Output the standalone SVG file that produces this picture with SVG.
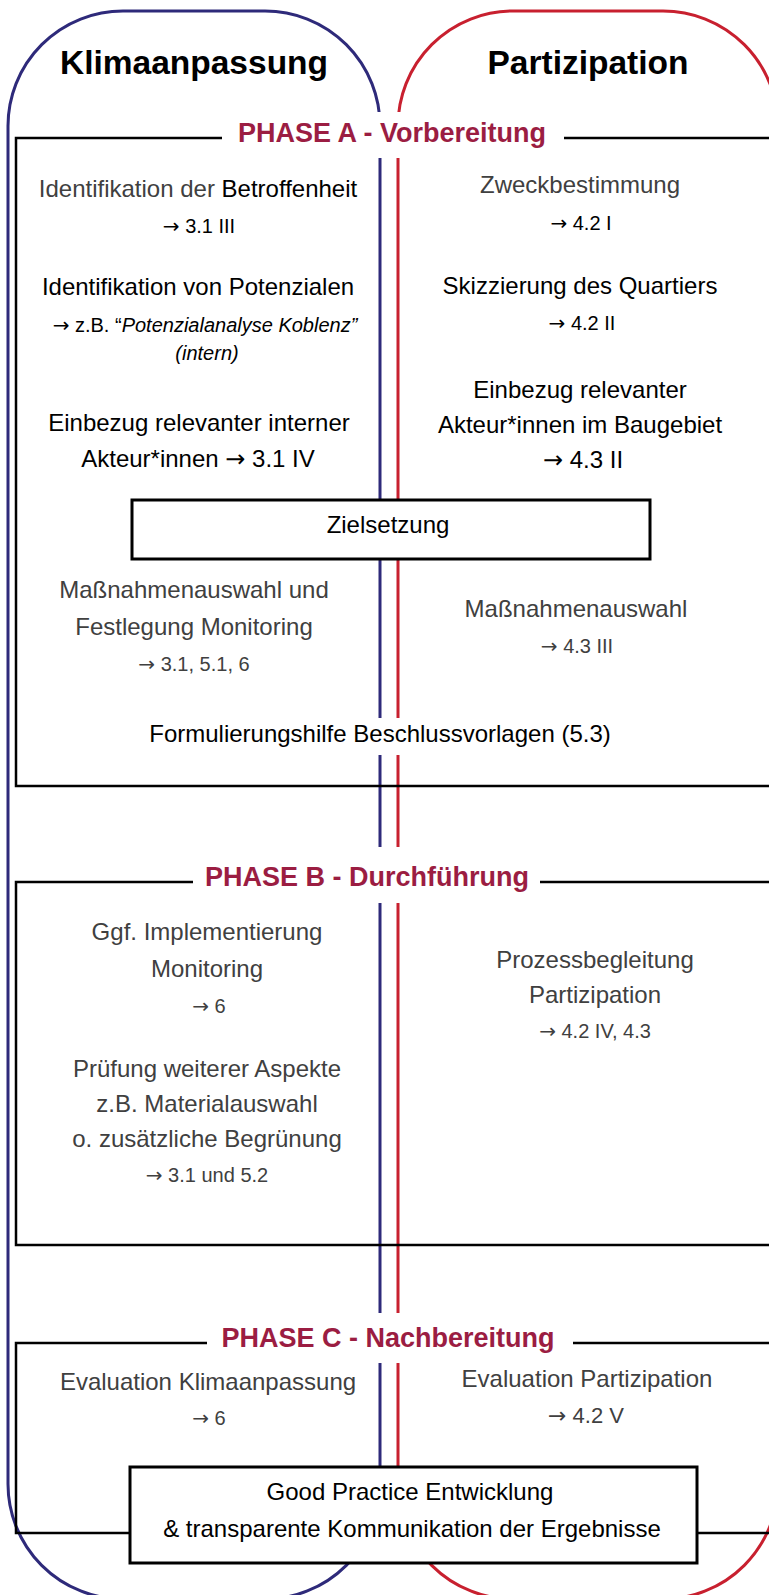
<svg xmlns="http://www.w3.org/2000/svg" width="769" height="1595" viewBox="0 0 769 1595">
<style>
text{font-family:"Liberation Sans","DejaVu Sans",sans-serif;text-anchor:middle}
.ar{font-family:"DejaVu Sans",sans-serif;font-style:normal}
.h{font-size:33.5px;font-weight:bold;fill:#000}
.ph{font-size:27px;font-weight:bold;fill:#9B1D42}
.g{font-size:24px;fill:#404040}
.k{font-size:24px;fill:#000}
.gs{font-size:20px;fill:#404040}
.ks{font-size:20px;fill:#000}
.it{font-style:italic}
.blue{fill:none;stroke:#2E2A7A;stroke-width:3}
.red{fill:none;stroke:#C8202F;stroke-width:3}
.fr{fill:none;stroke:#000;stroke-width:2.5}
.box{fill:#fff;stroke:#000;stroke-width:3}
.mask{fill:#fff}
</style>
<rect width="769" height="1595" fill="#fff"/>
<g id="columns">
<rect id="col-klima" class="blue" x="8" y="11" width="372" height="1588" rx="115" ry="115"/>
<rect id="col-partizipation" class="red" x="398" y="11" width="380" height="1588" rx="115" ry="115"/>
</g>
<g id="frames">
<path id="frame-a" class="fr" d="M222,138 H16 V786 H775 M564,138 H775"/>
<path id="frame-b" class="fr" d="M193,882 H16 V1245 H775 M540,882 H775"/>
<path id="frame-c" class="fr" d="M207,1343 H16 V1533 H130 M573,1343 H775 M697,1533 H775"/>
</g>
<g id="gaps">
<rect class="mask" x="375" y="112" width="28" height="46"/>
<rect class="mask" x="375" y="718" width="28" height="37"/>
<rect class="mask" x="375" y="847" width="28" height="56"/>
<rect class="mask" x="375" y="1313" width="28" height="50"/>
</g>
<g id="connectors"></g>
<g id="title-klima"><text class="h" x="194" y="74">Klimaanpassung</text></g>
<g id="title-partizipation"><text class="h" x="588" y="74">Partizipation</text></g>
<g id="phase-a-label"><text class="ph" x="392" y="142">PHASE A - Vorbereitung</text></g>
<g id="a-betroffenheit">
<text class="g" x="198" y="197">Identifikation der <tspan fill="#000">Betroffenheit</tspan></text>
<text class="ks" x="199" y="233"><tspan class="ar">→</tspan> 3.1 III</text>
</g>
<g id="a-potenziale">
<text class="k" x="198" y="295">Identifikation von Potenzialen</text>
<text class="ks" x="205" y="332"><tspan class="ar">→</tspan> z.B. “<tspan class="it">Potenzialanalyse Koblenz”</tspan></text>
<text class="ks it" x="207" y="360">(intern)</text>
</g>
<g id="a-akteure-intern">
<text class="k" x="199" y="431">Einbezug relevanter interner</text>
<text class="k" x="198" y="467">Akteur*innen <tspan class="ar">→</tspan> 3.1 IV</text>
</g>
<g id="a-zweck">
<text class="g" x="580" y="193">Zweckbestimmung</text>
<text class="ks" x="581" y="230"><tspan class="ar">→</tspan> 4.2 I</text>
</g>
<g id="a-quartier">
<text class="k" x="580" y="294">Skizzierung des Quartiers</text>
<text class="ks" x="582" y="330"><tspan class="ar">→</tspan> 4.2 II</text>
</g>
<g id="a-akteure-baugebiet">
<text class="k" x="580" y="398">Einbezug relevanter</text>
<text class="k" x="580" y="433">Akteur*innen im Baugebiet</text>
<text class="k" x="583" y="468"><tspan class="ar">→</tspan> 4.3 II</text>
</g>
<g id="zielsetzung">
<rect class="box" x="132" y="500" width="518" height="59"/>
<text class="k" x="388" y="533">Zielsetzung</text>
</g>
<g id="a-massnahmen-klima">
<text class="g" x="194" y="598">Maßnahmenauswahl und</text>
<text class="g" x="194" y="635">Festlegung Monitoring</text>
<text class="gs" x="194" y="671"><tspan class="ar">→</tspan> 3.1, 5.1, 6</text>
</g>
<g id="a-massnahmen-partizipation">
<text class="g" x="576" y="617">Maßnahmenauswahl</text>
<text class="gs" x="577" y="653"><tspan class="ar">→</tspan> 4.3 III</text>
</g>
<g id="a-formulierungshilfe"><text class="k" x="380" y="742">Formulierungshilfe Beschlussvorlagen (5.3)</text></g>
<g id="phase-b-label"><text class="ph" x="367" y="886">PHASE B - Durchführung</text></g>
<g id="b-monitoring">
<text class="g" x="207" y="940">Ggf. Implementierung</text>
<text class="g" x="207" y="977">Monitoring</text>
<text class="gs" x="209" y="1013"><tspan class="ar">→</tspan> 6</text>
</g>
<g id="b-pruefung">
<text class="g" x="207" y="1077">Prüfung weiterer Aspekte</text>
<text class="g" x="207" y="1112">z.B. Materialauswahl</text>
<text class="g" x="207" y="1147">o. zusätzliche Begrünung</text>
<text class="gs" x="207" y="1182"><tspan class="ar">→</tspan> 3.1 und 5.2</text>
</g>
<g id="b-prozessbegleitung">
<text class="g" x="595" y="968">Prozessbegleitung</text>
<text class="g" x="595" y="1003">Partizipation</text>
<text class="gs" x="595" y="1038"><tspan class="ar">→</tspan> 4.2 IV, 4.3</text>
</g>
<g id="phase-c-label"><text class="ph" x="388" y="1347">PHASE C - Nachbereitung</text></g>
<g id="c-eval-klima">
<text class="g" x="208" y="1390">Evaluation Klimaanpassung</text>
<text class="gs" x="209" y="1425"><tspan class="ar">→</tspan> 6</text>
</g>
<g id="c-eval-partizipation">
<text class="g" x="587" y="1387">Evaluation Partizipation</text>
<text class="g" x="586" y="1423" style="font-size:22px"><tspan class="ar">→</tspan> 4.2 V</text>
</g>
<g id="good-practice">
<rect class="box" x="130" y="1467" width="567" height="96"/>
<text class="k" x="410" y="1500">Good Practice Entwicklung</text>
<text class="k" x="412" y="1537">&amp; transparente Kommunikation der Ergebnisse</text>
</g>
</svg>
